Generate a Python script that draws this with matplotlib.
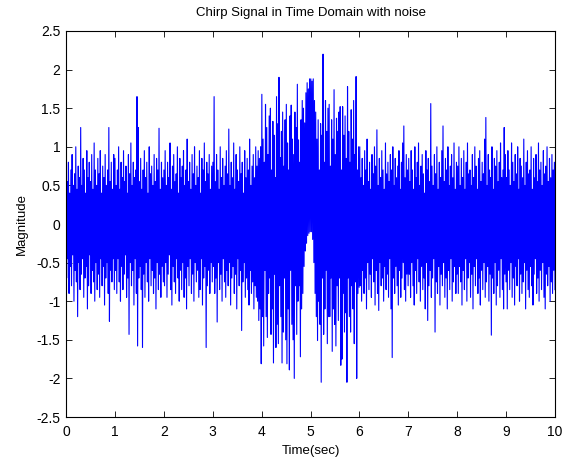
import matplotlib
matplotlib.use("Agg")
import matplotlib.pyplot as plt
import numpy as np

# Envelope of the noisy chirp: one peak and one trough
# every 0.025 s, one list per second of signal.
peaks_0 = [0.95, 0.55, 0.8, 0.4, 0.7, 0.9, 0.5, 0.65, 1.0, 0.45, 0.75, 0.6, 1.25, 0.5, 0.85, 0.7, 0.4, 0.95, 0.6, 0.8,
           0.55, 0.9, 0.45, 1.05, 0.7, 0.5, 0.85, 0.65, 0.95, 0.4, 0.75, 0.6, 0.9, 0.5, 0.7, 1.25, 0.55, 0.8, 0.45, 0.9]
troughs_0 = [-0.7, -0.45, -0.9, -0.55, -0.8, -0.4, -1.0, -0.6, -0.75, -1.2, -0.5, -0.85, -0.65, -0.45, -0.95, -0.7, -0.55, -1.1, -0.8, -0.4,
             -0.9, -0.6, -0.75, -1.0, -0.5, -0.85, -0.65, -0.95, -0.45, -0.8, -0.55, -1.05, -0.7, -0.5, -0.9, -1.26, -0.6, -0.75, -0.45, -0.85]

peaks_1 = [0.85, 0.5, 0.7, 1.0, 0.45, 0.8, 0.6, 0.95, 0.55, 0.75, 0.4, 0.9, 0.65, 1.05, 0.5, 0.8, 0.6, 0.7, 1.65, 1.25,
           0.55, 0.85, 0.45, 0.7, 0.95, 0.6, 0.8, 0.4, 1.0, 0.65, 0.75, 0.5, 0.9, 0.55, 0.85, 0.7, 1.24, 0.45, 0.8, 0.6]
troughs_1 = [-0.6, -0.9, -0.45, -0.75, -1.0, -0.55, -0.85, -0.65, -0.4, -0.95, -0.7, -1.43, -0.5, -0.8, -0.6, -1.05, -0.45, -0.9, -1.58, -0.7,
             -0.55, -0.85, -1.6, -0.65, -0.95, -0.5, -0.75, -1.0, -0.45, -0.8, -0.6, -0.9, -0.7, -1.1, -0.5, -0.85, -0.65, -0.95, -0.55, -0.75]

peaks_2 = [0.7, 0.95, 0.5, 0.8, 0.6, 1.05, 0.45, 0.75, 0.9, 0.55, 0.65, 1.0, 0.4, 0.85, 0.6, 0.75, 0.95, 0.5, 0.7, 1.1,
           0.55, 0.8, 0.45, 0.9, 0.65, 1.0, 0.5, 0.75, 0.6, 0.95, 0.4, 0.85, 0.7, 1.05, 0.55, 0.8, 0.65, 0.9, 0.45, 0.75]
troughs_2 = [-0.8, -0.5, -0.95, -0.65, -0.4, -0.85, -1.05, -0.55, -0.75, -0.9, -0.45, -0.7, -1.0, -0.6, -0.85, -0.5, -0.95, -0.7, -1.1, -0.55,
             -0.8, -0.45, -0.9, -0.65, -1.0, -0.5, -0.75, -0.6, -0.95, -0.85, -0.45, -1.05, -0.7, -0.55, -1.6, -0.8, -0.6, -0.9, -0.5, -0.75]

peaks_3 = [0.8, 1.65, 0.55, 0.9, 0.7, 0.45, 1.0, 0.6, 0.85, 0.5, 0.75, 0.95, 0.65, 1.23, 0.5, 0.8, 0.6, 1.05, 0.45, 0.9,
           0.7, 0.55, 1.0, 0.65, 0.8, 0.4, 0.95, 0.6, 0.85, 0.7, 1.1, 0.5, 0.75, 0.9, 0.6, 1.0, 0.75, 0.95, 0.85, 1.0]
troughs_3 = [-0.55, -0.9, -0.7, -1.27, -0.5, -0.85, -0.65, -1.0, -0.45, -0.75, -0.95, -0.6, -0.8, -0.5, -1.05, -0.7, -0.55, -0.9, -0.65, -1.1,
             -0.45, -0.8, -0.6, -1.38, -0.75, -0.5, -0.95, -0.7, -0.85, -1.05, -0.6, -0.9, -0.75, -1.1, -0.8, -0.95, -1.0, -1.25, -1.1, -1.81]

peaks_4 = [1.68, 1.1, 0.8, 1.55, 1.25, 0.9, 1.4, 1.5, 0.7, 1.33, 1.15, 0.6, 1.65, 1.3, 1.9, 0.86, 1.2, 1.45, 0.75, 1.35,
           1.55, 1.05, 0.7, 1.4, 1.54, 1.1, 0.9, 1.45, 1.25, 1.81, 1.09, 0.8, 1.35, 1.6, 1.5, 1.31, 1.7, 1.83, 1.75, 1.88]
troughs_4 = [-1.2, -1.58, -0.6, -1.2, -1.47, -0.9, -0.7, -1.43, -1.1, -1.8, -0.65, -1.6, -1.3, -1.55, -0.8, -1.2, -1.8, -1.4, -0.7, -1.5,
             -1.81, -1.1, -1.89, -0.6, -1.3, -1.5, -2.0, -0.8, -1.43, -1.0, -0.8, -1.72, -1.1, -0.9, -0.55, -0.35, -0.25, -0.15, -0.12, -0.1]

peaks_5 = [1.88, 1.85, 1.88, 1.6, 1.45, 1.1, 1.35, 0.7, 1.3, 1.15, 2.2, 0.8, 1.6, 1.2, 1.5, 1.55, 0.75, 1.35, 1.1, 1.74,
           0.9, 1.37, 1.2, 1.45, 1.52, 0.7, 1.52, 1.15, 1.4, 0.85, 1.78, 1.2, 0.8, 1.48, 1.1, 1.6, 0.9, 1.91, 0.7, 1.0]
troughs_5 = [-0.1, -0.2, -0.5, -0.9, -1.2, -1.51, -1.0, -1.3, -2.05, -0.7, -1.43, -1.1, -0.6, -1.55, -1.2, -1.2, -0.7, -1.65, -1.1, -1.3,
             -1.58, -0.8, -1.25, -0.7, -1.83, -1.75, -0.9, -1.4, -1.15, -2.05, -0.7, -1.2, -1.4, -0.8, -1.1, -1.55, -0.75, -2.0, -0.9, -0.82]

peaks_6 = [1.0, 0.6, 0.85, 0.5, 0.95, 0.7, 1.1, 0.55, 0.8, 0.45, 0.9, 0.65, 1.0, 0.75, 1.22, 0.5, 0.85, 0.6, 0.95, 0.7,
           0.45, 1.05, 0.65, 0.8, 0.55, 0.9, 0.7, 1.0, 0.5, 0.85, 0.6, 0.75, 0.95, 0.45, 0.8, 1.05, 1.27, 0.6, 0.9, 0.7]
troughs_6 = [-0.8, -1.0, -0.6, -0.9, -0.7, -1.1, -0.5, -0.85, -0.65, -0.95, -0.45, -0.75, -1.05, -0.6, -0.9, -1.12, -0.5, -0.8, -0.7, -1.0,
             -0.55, -0.85, -0.65, -0.95, -0.45, -1.1, -1.73, -0.7, -0.9, -0.55, -0.8, -1.05, -0.6, -0.95, -0.7, -0.5, -0.85, -1.0, -0.65, -0.8]

peaks_7 = [0.85, 0.55, 0.95, 0.7, 0.45, 1.0, 0.6, 0.8, 1.05, 0.5, 0.75, 0.9, 0.65, 0.4, 0.95, 0.7, 0.85, 0.55, 1.56, 0.75,
           0.5, 0.9, 0.65, 1.0, 0.45, 0.8, 0.6, 0.95, 1.27, 0.55, 0.85, 0.7, 1.0, 0.5, 0.75, 0.9, 0.6, 1.05, 0.45, 0.8]
troughs_7 = [-0.65, -0.95, -0.5, -0.8, -1.05, -0.6, -0.9, -0.45, -0.75, -1.0, -0.55, -0.85, -0.7, -1.1, -0.5, -1.25, -0.8, -0.6, -0.95, -0.7,
             -0.45, -1.4, -0.75, -0.9, -0.55, -1.05, -0.65, -0.8, -0.5, -0.95, -0.7, -1.1, -0.6, -0.85, -0.45, -1.0, -0.75, -0.55, -0.9, -0.65]

peaks_8 = [0.75, 1.0, 0.5, 0.85, 0.6, 0.95, 0.45, 0.8, 1.05, 0.65, 0.7, 0.5, 0.9, 0.6, 1.0, 0.75, 0.45, 0.85, 0.95, 0.55,
           0.8, 0.65, 1.1, 1.38, 0.5, 0.9, 0.7, 0.6, 1.0, 0.45, 0.85, 0.75, 0.95, 0.55, 0.8, 1.05, 0.6, 0.7, 1.25, 0.9]
troughs_8 = [-0.9, -0.55, -0.75, -1.05, -0.6, -0.85, -0.45, -1.0, -0.7, -0.5, -0.95, -0.65, -1.1, -0.55, -0.8, -0.45, -0.9, -0.7, -1.05, -0.6,
             -0.85, -0.5, -0.95, -0.75, -0.55, -1.0, -0.65, -1.44, -0.7, -0.9, -0.5, -1.05, -0.8, -0.6, -0.95, -0.45, -0.85, -1.1, -0.65, -0.75]

peaks_9 = [0.6, 0.95, 0.7, 0.5, 1.05, 0.8, 0.55, 0.9, 0.65, 1.0, 0.45, 0.85, 0.75, 0.6, 1.1, 0.5, 0.8, 0.95, 0.65, 0.7,
           1.0, 0.45, 0.85, 0.6, 0.9, 0.55, 1.05, 0.7, 0.8, 0.5, 0.95, 0.65, 0.75, 1.0, 0.55, 0.85, 0.6, 0.9, 0.7, 0.8]
troughs_9 = [-1.1, -0.6, -0.85, -0.5, -0.95, -0.7, -1.05, -0.55, -0.8, -0.45, -1.0, -0.65, -0.9, -0.75, -0.5, -1.1, -0.6, -0.85, -0.95, -0.55,
             -0.8, -1.05, -0.65, -0.45, -0.9, -0.7, -1.0, -0.6, -0.85, -0.5, -0.95, -1.1, -0.65, -0.8, -0.55, -1.0, -0.75, -0.9, -0.6, -0.85]

peak_rows = [peaks_0, peaks_1, peaks_2, peaks_3, peaks_4, peaks_5, peaks_6, peaks_7, peaks_8, peaks_9]
trough_rows = [troughs_0, troughs_1, troughs_2, troughs_3, troughs_4, troughs_5, troughs_6, troughs_7, troughs_8, troughs_9]
for i, (p, q) in enumerate(zip(peak_rows, trough_rows)):
    assert len(p) == 40 and len(q) == 40, (i, len(p), len(q))

peaks = np.concatenate(peak_rows)
troughs = np.concatenate(trough_rows)
signal = np.empty(2 * len(peaks))
signal[0::2] = peaks
signal[1::2] = troughs
t = np.linspace(0, 10, len(signal))

plt.rcParams['font.family'] = ['Liberation Sans', 'DejaVu Sans']
plt.rcParams['font.size'] = 10

fig = plt.figure(figsize=(5.68, 4.61), dpi=100)
ax = fig.add_axes([66 / 568, 1 - 417 / 461, 489 / 568, 386 / 461])
ax.plot(t, signal, color=(0, 0, 1), linewidth=0.8)

ax.set_xlim(0, 10)
ax.set_ylim(-2.5, 2.5)
ax.set_xticks(np.arange(0, 11, 1))
ax.set_yticks(np.arange(-2.5, 2.51, 0.5))
ax.set_yticklabels([f"{v:g}" for v in np.arange(-2.5, 2.51, 0.5)])
ax.tick_params(direction='in', top=True, right=True, length=4, width=0.6)
ax.tick_params(axis='x', pad=6)
ax.tick_params(axis='y', pad=4)
for s in ax.spines.values():
    s.set_linewidth(0.8)

ax.set_title("Chirp Signal in Time Domain with noise", fontsize=9.5, pad=11)
ax.set_xlabel("Time(sec)", fontsize=9.5, labelpad=4)
ax.set_ylabel("Magnitude", fontsize=9.5, labelpad=6)

fig.savefig("out.png", dpi=100)
